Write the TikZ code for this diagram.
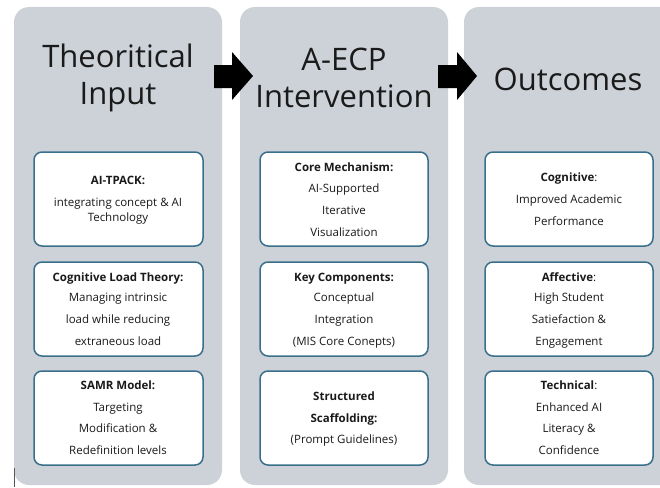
\documentclass[tikz,border=0pt]{standalone}
\usepackage{fontspec}
\setmainfont{Open Sans}
\definecolor{panelgray}{HTML}{CDD2D9}
\definecolor{boxline}{HTML}{3A6F8C}
\definecolor{txt}{HTML}{1A1A1A}
\begin{document}
\begin{tikzpicture}[x=1pt,y=-1pt,
  panel/.style={fill=panelgray,draw=none,rounded corners=15pt},
  infobox/.style={fill=white,draw=boxline,line width=1.5pt,rounded corners=8pt},
  title/.style={font=\fontsize{31}{37}\selectfont,align=center,inner sep=0pt,text=txt},
  ln/.style={font=\fontsize{11.5}{13}\selectfont,inner sep=0pt,anchor=base,text=txt},
  bigarrow/.style={fill=black,draw=none}]
\useasboundingbox (0,0) rectangle (660,487);
\clip (0,0) rectangle (660,487);
% panels
\path[panel] (14,7) rectangle (222,485);
\path[panel] (240,7) rectangle (448,485);
\path[panel] (464,7) rectangle (680,485);
% titles
\node[title] (t1) at (118,78) {Theoritical\\Input};
\node[title] (t2) at (344,78) {A-ECP\\Intervention};
\node[title] (t3) at (568,79) {Outcomes};
% arrows
\path[bigarrow] (214,65) -- (232,65) -- (232,52) -- (253,76) -- (232,100) -- (232,88) -- (214,88) -- cycle;
\path[bigarrow] (438,65) -- (457,65) -- (457,52) -- (477,76) -- (457,100) -- (457,88) -- (438,88) -- cycle;
% boxes
\foreach \xa/\xb/\c in {34/203/1,260/428/2,485/653/3}{
  \path[infobox] (\xa,152) rectangle (\xb,246);
  \path[infobox] (\xa,262) rectangle (\xb,356);
  \path[infobox] (\xa,371) rectangle (\xb,465);
}
% panel 1 texts
\node[ln] (a1) at (118,184) {\bfseries AI-TPACK:};
\node[ln] (a2) at (118,206) {integrating concept \& AI};
\node[ln] (a3) at (118,221) {Technology};
\node[ln] (b1) at (118,281) {\bfseries Cognitive Load Theory:};
\node[ln] (b2) at (118,301) {Managing intrinsic};
\node[ln] (b3) at (118,323) {load while reducing};
\node[ln] (b4) at (118,345) {extraneous load};
\node[ln] (c1) at (118,389) {\bfseries SAMR Model:};
\node[ln] (c2) at (118,411) {Targeting};
\node[ln] (c3) at (118,432) {Modification \&};
\node[ln] (c4) at (118,454) {Redefinition levels};
% panel 2 texts
\node[ln] (d1) at (344,171) {\bfseries Core Mechanism:};
\node[ln] (d2) at (344,192) {AI-Supported};
\node[ln] (d3) at (344,214) {Iterative};
\node[ln] (d4) at (344,236) {Visualization};
\node[ln] (e1) at (344,281) {\bfseries Key Components:};
\node[ln] (e2) at (344,301) {Conceptual};
\node[ln] (e3) at (344,323) {Integration};
\node[ln] (e4) at (344,345) {(MIS Core Conepts)};
\node[ln] (f1) at (344,400) {\bfseries Structured};
\node[ln] (f2) at (344,422) {\bfseries Scaffolding:};
\node[ln] (f3) at (344,443) {(Prompt Guidelines)};
% panel 3 texts
\node[ln] (g1) at (569,181) {\textbf{Cognitive}:};
\node[ln] (g2) at (569,203) {Improved Academic};
\node[ln] (g3) at (569,225) {Performance};
\node[ln] (h1) at (569,281) {\textbf{Affective}:};
\node[ln] (h2) at (569,301) {High Student};
\node[ln] (h3) at (569,323) {Satiefaction \&};
\node[ln] (h4) at (569,345) {Engagement};
\node[ln] (i1) at (569,389) {\textbf{Technical}:};
\node[ln] (i2) at (569,411) {Enhanced AI};
\node[ln] (i3) at (569,432) {Literacy \&};
\node[ln] (i4) at (569,454) {Confidence};
% small mark bottom left
\draw[gray!70!black,line width=0.8pt] (14,468) -- (14,487);
\end{tikzpicture}
\end{document}
